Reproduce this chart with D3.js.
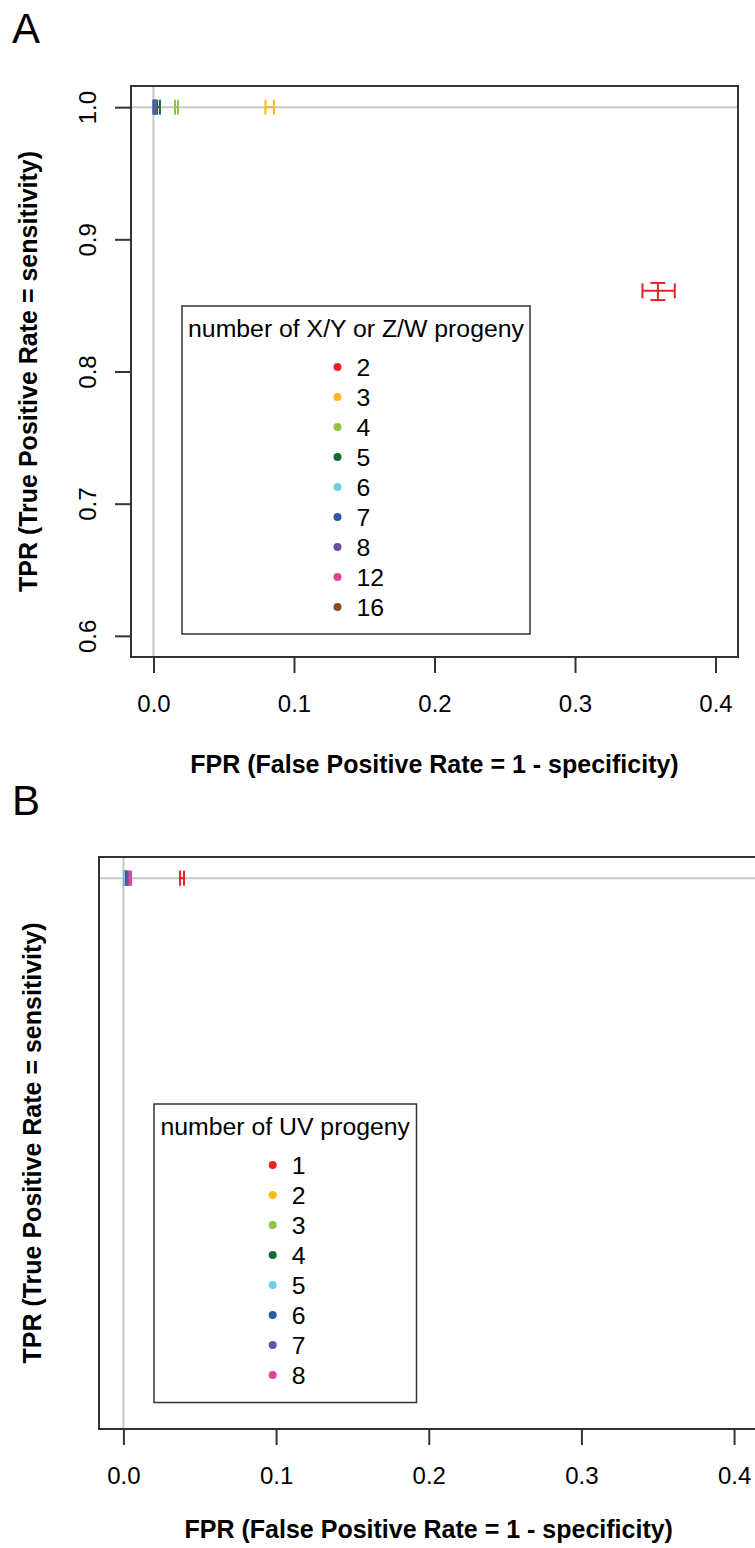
<!DOCTYPE html>
<html>
<head>
<meta charset="utf-8">
<script src="https://cdn.jsdelivr.net/npm/d3@7"></script>
<style>
body { margin: 0; background: #fff; }
svg text { font-family: "Liberation Sans", Arial, Helvetica, sans-serif; fill: #000; }
</style>
</head>
<body>
<script>
// ---- data : panel A (X/Y or Z/W progeny) ----
// null = no mark visible in the figure
var groupsA = ["2", "3", "4", "5", "6", "7", "8", "12", "16"];
var fprA    = [0.359, 0.0828, 0.0164, 0.0036, 0.0007, 0.0007, 0.0006, null, null];
var fprLoA  = [0.348, 0.0797, 0.0153, 0.0025, 0.0000, 0.0000, 0.0001, null, null];
var fprHiA  = [0.371, 0.0857, 0.0175, 0.0046, 0.0014, 0.0014, 0.0011, null, null];
var tprA    = [0.861, 1.0, 1.0, 1.0, 1.0, 1.0, 1.0, null, null];
var tprLoA  = [0.854, 1.0, 1.0, 1.0, 1.0, 1.0, 1.0, null, null];
var tprHiA  = [0.867, 1.0, 1.0, 1.0, 1.0, 1.0, 1.0, null, null];

// ---- data : panel B (UV progeny) ----
var groupsB = ["1", "2", "3", "4", "5", "6", "7", "8"];
var fprB    = [0.0384, 0.0008, 0.0009, 0.0010, 0.0012, 0.0022, 0.0030, 0.0045];
var fprLoB  = [0.0371, 0.0004, 0.0005, 0.0006, 0.0006, 0.0017, 0.0025, 0.0040];
var fprHiB  = [0.0397, 0.0012, 0.0013, 0.0014, 0.0018, 0.0027, 0.0035, 0.0050];
var tprB    = [1.0, 1.0, 1.0, 1.0, 1.0, 1.0, 1.0, 1.0];
var tprLoB  = [1.0, 1.0, 1.0, 1.0, 1.0, 1.0, 1.0, 1.0];
var tprHiB  = [1.0, 1.0, 1.0, 1.0, 1.0, 1.0, 1.0, 1.0];

var xTicks = [0, 0.1, 0.2, 0.3, 0.4];
var yTicks = [0.6, 0.7, 0.8, 0.9, 1.0];
var xLim = [0, 0.4];
var yLim = [0.6, 1.0];

var palette = ["#ED2024", "#FDB913", "#8DC63F", "#126B37", "#6DCFE0", "#2D57A7", "#6C4FA0", "#E0439B", "#8B4A22"];

var svg = d3.select("body")
	.append("svg")
	.attr("width", 755)
	.attr("height", 1548);

// R style 4% axis extension
var extend = function(lim){
	var d = (lim[1] - lim[0]) * 0.04;
	return [lim[0] - d, lim[1] + d];
};

function makePanel(p){
	var x = d3.scaleLinear().domain(extend(xLim)).range([p.left, p.right]);
	var y = d3.scaleLinear().domain(extend(yLim)).range([p.bottom, p.top]);
	var g = svg.append("g");

	// panel letter
	g.append("text")
		.attr("x", 12)
		.attr("y", p.letterY)
		.attr("font-size", 42)
		.text(p.letter);

	// reference lines x = 0, y = 1
	g.append("line")
		.attr("x1", x(0)).attr("x2", x(0))
		.attr("y1", p.top).attr("y2", p.bottom)
		.attr("stroke", "#c8c8c8")
		.attr("stroke-width", 2);
	g.append("line")
		.attr("x1", p.left).attr("x2", p.right)
		.attr("y1", y(1)).attr("y2", y(1))
		.attr("stroke", "#c8c8c8")
		.attr("stroke-width", 2);

	// error bars
	var cap = 7.5;
	var bars = g.append("g")
		.attr("stroke-width", 2)
		.attr("fill", "none");
	p.fpr.forEach(function(v, i){
		if(v === null) return;
		var col = palette[i];
		var cy = y(p.tpr[i]);
		var x0 = x(p.fprLo[i]), x1 = x(p.fprHi[i]);
		var e = bars.append("g").attr("stroke", col);
		e.append("line").attr("x1", x0).attr("x2", x1).attr("y1", cy).attr("y2", cy);
		e.append("line").attr("x1", x0).attr("x2", x0).attr("y1", cy - cap).attr("y2", cy + cap);
		e.append("line").attr("x1", x1).attr("x2", x1).attr("y1", cy - cap).attr("y2", cy + cap);
		if(p.tprLo[i] !== p.tprHi[i]){
			var cx = x(v);
			var y0 = y(p.tprLo[i]), y1 = y(p.tprHi[i]);
			e.append("line").attr("x1", cx).attr("x2", cx).attr("y1", y0).attr("y2", y1);
			e.append("line").attr("x1", cx - cap).attr("x2", cx + cap).attr("y1", y0).attr("y2", y0);
			e.append("line").attr("x1", cx - cap).attr("x2", cx + cap).attr("y1", y1).attr("y2", y1);
		}
	});

	// box
	g.append("rect")
		.attr("x", p.left)
		.attr("y", p.top)
		.attr("width", p.right - p.left)
		.attr("height", p.bottom - p.top)
		.attr("fill", "none")
		.attr("stroke", "#333")
		.attr("stroke-width", 2);

	// x axis
	var xa = g.append("g")
		.attr("transform", "translate(0," + p.bottom + ")")
		.call(d3.axisBottom(x).tickValues(xTicks).tickFormat(d3.format(".1f")).tickSize(16).tickPadding(22).tickSizeOuter(0));
	xa.select(".domain").remove();
	xa.selectAll("line").attr("stroke", "#333").attr("stroke-width", 2);
	xa.selectAll("text").attr("font-size", 24).attr("fill", "#000");

	// y axis (panel A only)
	if(p.yAxis){
		var ya = g.append("g")
			.attr("transform", "translate(" + p.left + ",0)")
			.call(d3.axisLeft(y).tickValues(yTicks).tickFormat(d3.format(".1f")).tickSize(16).tickSizeOuter(0));
		ya.select(".domain").remove();
		ya.selectAll("line").attr("stroke", "#333").attr("stroke-width", 2);
		ya.selectAll("text")
			.attr("font-size", 24)
			.attr("fill", "#000")
			.attr("x", 0)
			.attr("dy", null)
			.attr("text-anchor", "middle")
			.attr("transform", "translate(" + (96 - p.left) + ",0) rotate(-90)");
	}

	// axis titles
	g.append("text")
		.attr("x", (p.left + p.right) / 2)
		.attr("y", p.titleY)
		.attr("text-anchor", "middle")
		.attr("font-size", 25)
		.attr("font-weight", "bold")
		.text("FPR (False Positive Rate = 1 - specificity)");
	g.append("text")
		.attr("transform", "translate(" + p.yTitleX + "," + ((p.top + p.bottom) / 2) + ") rotate(-90)")
		.attr("text-anchor", "middle")
		.attr("font-size", 25)
		.attr("font-weight", "bold")
		.text("TPR (True Positive Rate = sensitivity)");

	// legend
	var L = p.legend;
	g.append("rect")
		.attr("x", L.x).attr("y", L.y)
		.attr("width", L.w).attr("height", L.h)
		.attr("fill", "#fff")
		.attr("stroke", "#333")
		.attr("stroke-width", 1.5);
	g.append("text")
		.attr("x", L.x + L.w / 2)
		.attr("y", L.y + 31)
		.attr("text-anchor", "middle")
		.attr("font-size", 24.8)
		.text(L.title);
	p.groups.forEach(function(name, i){
		var ry = L.y + 61 + i * 30;
		g.append("circle")
			.attr("cx", L.dotX)
			.attr("cy", ry)
			.attr("r", 4)
			.attr("fill", palette[i]);
		g.append("text")
			.attr("x", L.dotX + 19)
			.attr("y", ry + 8.5)
			.attr("font-size", 24.8)
			.text(name);
	});
}

makePanel({
	letter: "A", letterY: 43,
	left: 131, right: 738, top: 86, bottom: 657,
	yAxis: true, yTitleX: 37, titleY: 773,
	groups: groupsA, fpr: fprA, fprLo: fprLoA, fprHi: fprHiA, tpr: tprA, tprLo: tprLoA, tprHi: tprHiA,
	legend: { x: 182, y: 306, w: 348, h: 328, dotX: 337.5, title: "number of X/Y or Z/W progeny" }
});

makePanel({
	letter: "B", letterY: 815,
	left: 99, right: 758.5, top: 857, bottom: 1429,
	yAxis: false, yTitleX: 41, titleY: 1538,
	groups: groupsB, fpr: fprB, fprLo: fprLoB, fprHi: fprHiB, tpr: tprB, tprLo: tprLoB, tprHi: tprHiB,
	legend: { x: 154, y: 1104, w: 262.5, h: 298.5, dotX: 272.7, title: "number of UV progeny" }
});
</script>
</body>
</html>
